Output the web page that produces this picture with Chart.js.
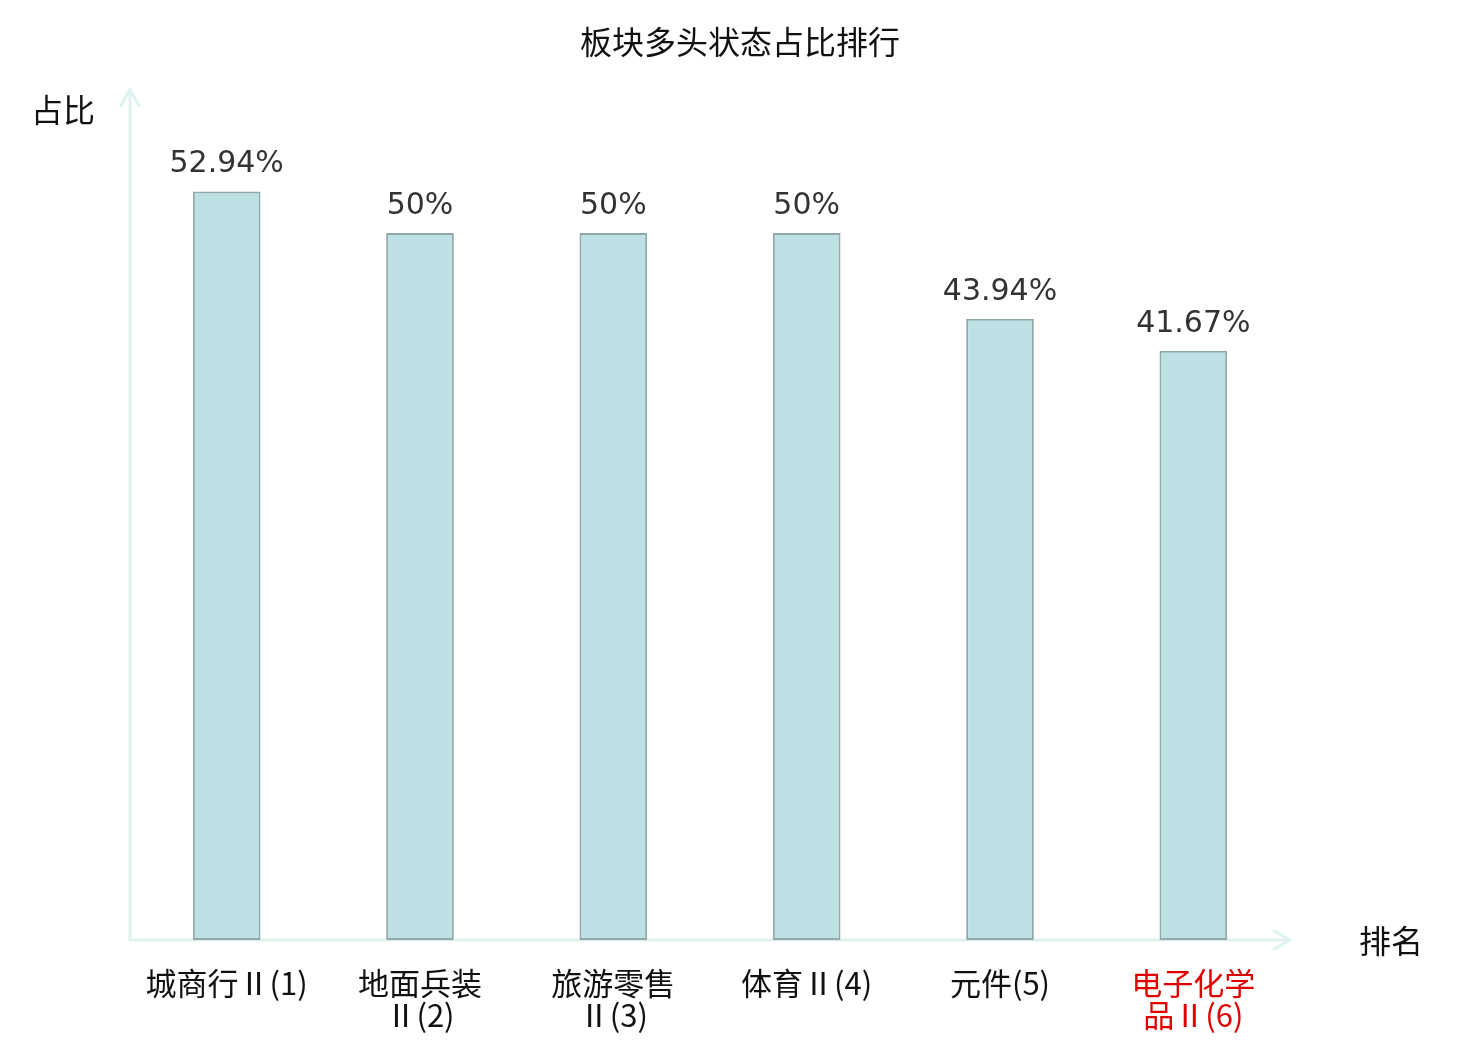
<!DOCTYPE html>
<html>
<head>
<meta charset="utf-8">
<script src="https://cdn.jsdelivr.net/npm/chart.js@4"></script>
<style>
html,body{margin:0;padding:0;background:#fff;}
#wrap{width:1480px;height:1040px;}
</style>
</head>
<body>
<div id="wrap"><canvas id="c" width="1480" height="1040"></canvas></div>
<script>
const chartTitle = "板块多头状态占比排行";
const yAxisName = "占比";
const xAxisName = "排名";
const categories = [
  "城商行Ⅱ(1)",
  ["地面兵装", "Ⅱ(2)"],
  ["旅游零售", "Ⅱ(3)"],
  "体育Ⅱ(4)",
  "元件(5)",
  ["电子化学", "品Ⅱ(6)"]
];
const values = [52.94, 50, 50, 50, 43.94, 41.67];
const highlightIndex = 5;
const yMin = 0;
const yMax = 60;

const CJK = '"Noto Sans CJK SC", "Noto Sans", sans-serif';
const AXIS_COLOR = '#dff2ef';

const decorPlugin = {
  id: 'decor',
  beforeDatasetsDraw(chart) {
    const {ctx, chartArea: a} = chart;
    ctx.save();
    ctx.strokeStyle = AXIS_COLOR;
    ctx.lineWidth = 3;
    ctx.lineCap = 'round';
    ctx.lineJoin = 'round';
    // y axis
    ctx.beginPath();
    ctx.moveTo(a.left, a.bottom);
    ctx.lineTo(a.left, a.top - 2);
    ctx.stroke();
    ctx.beginPath();
    ctx.moveTo(a.left - 9, a.top + 14);
    ctx.lineTo(a.left, a.top - 2);
    ctx.lineTo(a.left + 9, a.top + 14);
    ctx.stroke();
    // x axis
    ctx.beginPath();
    ctx.moveTo(a.left, a.bottom);
    ctx.lineTo(a.right, a.bottom);
    ctx.stroke();
    ctx.beginPath();
    ctx.moveTo(a.right - 16, a.bottom - 9);
    ctx.lineTo(a.right, a.bottom);
    ctx.lineTo(a.right - 16, a.bottom + 9);
    ctx.stroke();
    ctx.restore();
  },
  afterDatasetsDraw(chart) {
    const {ctx, chartArea: a} = chart;
    ctx.save();
    // title
    ctx.font = '32px ' + CJK;
    ctx.fillStyle = '#111111';
    ctx.textAlign = 'center';
    ctx.textBaseline = 'middle';
    ctx.fillText(chartTitle, chart.width / 2, 42);
    // value labels
    const meta = chart.getDatasetMeta(0);
    ctx.font = '30px "DejaVu Sans", sans-serif';
    ctx.fillStyle = '#333333';
    ctx.textAlign = 'center';
    ctx.textBaseline = 'alphabetic';
    meta.data.forEach((bar, i) => {
      ctx.fillText(String(values[i]) + '%', bar.x, bar.y - 19);
    });
    // axis names
    ctx.font = '32px ' + CJK;
    ctx.fillStyle = '#111111';
    ctx.textBaseline = 'middle';
    ctx.textAlign = 'center';
    ctx.fillText(yAxisName, a.left - 67, a.top + 18);
    ctx.fillText(xAxisName, a.right + 101, a.bottom + 1);
    ctx.restore();
  }
};

new Chart(document.getElementById('c'), {
  type: 'bar',
  data: {
    labels: categories,
    datasets: [{
      data: values,
      backgroundColor: '#bce0e3',
      borderColor: '#8fa8a9',
      borderWidth: 2,
      borderSkipped: false,
      barPercentage: 0.35,
      categoryPercentage: 1
    }]
  },
  options: {
    responsive: false,
    animation: false,
    devicePixelRatio: 1,
    layout: {padding: {left: 130, right: 190, top: 91.6, bottom: 0}},
    plugins: {
      legend: {display: false},
      tooltip: {enabled: false},
      title: {display: false}
    },
    scales: {
      y: {
        display: false,
        min: yMin,
        max: yMax
      },
      x: {
        grid: {display: false, drawTicks: false},
        border: {display: false},
        afterFit(scale) { scale.height = 100; },
        ticks: {
          padding: 27,
          maxRotation: 0,
          autoSkip: false,
          font: {family: CJK, size: 31, lineHeight: 1.04},
          color: (ctx) => ctx.index === highlightIndex ? '#e00000' : '#111111'
        }
      }
    }
  },
  plugins: [decorPlugin]
});
</script>
</body>
</html>
